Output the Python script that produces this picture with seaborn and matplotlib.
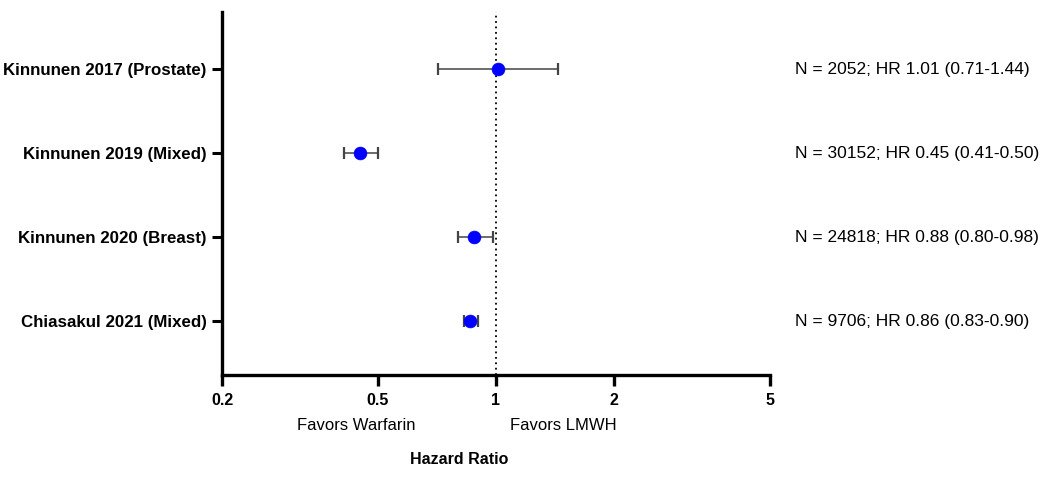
import matplotlib
matplotlib.use("Agg")
import matplotlib.pyplot as plt
import matplotlib.ticker as mticker
import seaborn as sns
import pandas as pd

studies = ["Kinnunen 2017 (Prostate)", "Kinnunen 2019 (Mixed)",
           "Kinnunen 2020 (Breast)", "Chiasakul 2021 (Mixed)"]
hr = [1.01, 0.45, 0.88, 0.86]
ci_low = [0.71, 0.41, 0.80, 0.83]
ci_high = [1.44, 0.50, 0.98, 0.90]
n_pat = [2052, 30152, 24818, 9706]
x_ticks = [0.2, 0.5, 1, 2, 5]
x_tick_labels = ["0.2", "0.5", "1", "2", "5"]

sns.set_style("white")
plt.rcParams['font.family'] = ['Liberation Sans', 'DejaVu Sans']
plt.rcParams['text.color'] = 'black'

df = pd.DataFrame({"study": studies, "hr": hr, "lo": ci_low, "hi": ci_high,
                   "n": n_pat})
df["pos"] = range(len(df))

fig = plt.figure(figsize=(10.5, 4.78), dpi=100)
ax = fig.add_axes([222/1050, 1 - 375/478, (770-222)/1050, (375-12)/478])

ax.errorbar(df["hr"], df["pos"],
            xerr=[df["hr"] - df["lo"], df["hi"] - df["hr"]],
            fmt="none", ecolor="#444444", elinewidth=1.1, capsize=4,
            capthick=1.6, zorder=2)
sns.scatterplot(data=df, x="hr", y="pos", ax=ax, color="#0000ff", s=85,
                edgecolor="#0000ff", linewidth=0.5, zorder=3, legend=False)
ax.axvline(1, color="black", linestyle=(0, (1, 2)), lw=1.3, zorder=1)

ax.set_xscale("log")
ax.set_xlim(0.2, 5)
ax.set_ylim(3.64, -0.68)
ax.xaxis.set_major_locator(mticker.FixedLocator(x_ticks))
ax.xaxis.set_major_formatter(mticker.FixedFormatter(x_tick_labels))
ax.xaxis.set_minor_locator(mticker.NullLocator())
ax.set_yticks(df["pos"])
ax.set_yticklabels(df["study"])

for lab in ax.get_xticklabels():
    lab.set_fontweight("bold")
    lab.set_fontsize(11.5)
for lab in ax.get_yticklabels():
    lab.set_fontweight("bold")
    lab.set_fontsize(12.2)

sns.despine(ax=ax)
for s in ["left", "bottom"]:
    ax.spines[s].set_linewidth(2.4)
    ax.spines[s].set_color("black")
ax.tick_params(axis="x", length=8, width=2.4, pad=5, direction="out",
               bottom=True, colors="black")
ax.tick_params(axis="y", length=7, width=2.2, pad=4, direction="out",
               left=True, colors="black")
ax.set_xlabel("")
ax.set_ylabel("")

for i, row in df.iterrows():
    ax.text(1.046, row["pos"],
            f"N = {row['n']}; HR {row['hr']:.2f} ({row['lo']:.2f}-{row['hi']:.2f})",
            transform=ax.get_yaxis_transform(), ha="left", va="center",
            fontsize=12.5, color="black")

fig.text(356/1050, 1 - 426/478, "Favors Warfarin", ha="center", va="center",
         fontsize=12, color="black")
fig.text(563/1050, 1 - 426/478, "Favors LMWH", ha="center", va="center",
         fontsize=12, color="black")
fig.text(459/1050, 1 - 460/478, "Hazard Ratio", ha="center", va="center",
         fontsize=11.5, fontweight="bold", color="black")

fig.savefig("out.png", dpi=100)
